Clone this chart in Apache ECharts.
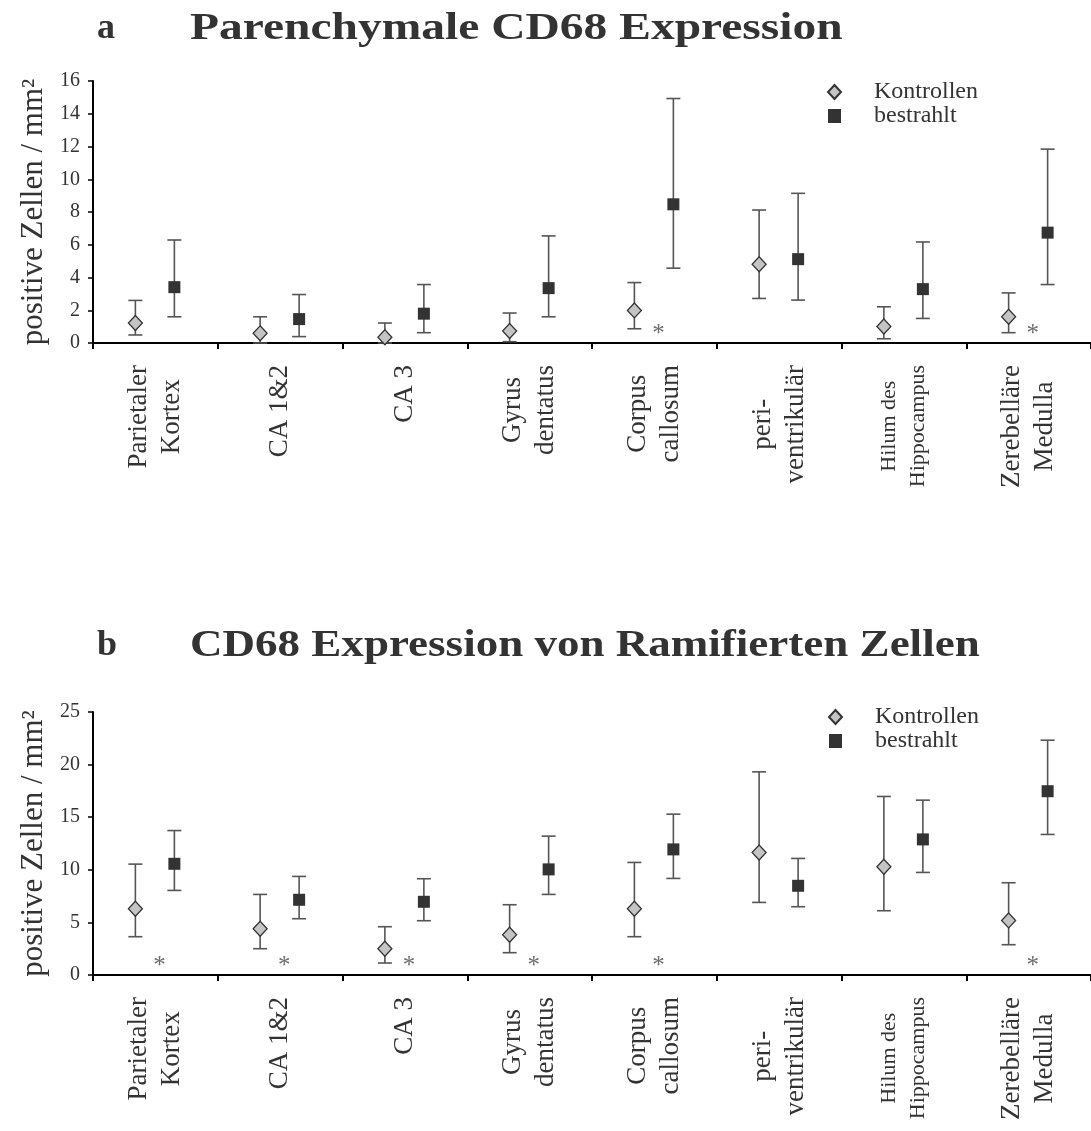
<!DOCTYPE html>
<html>
<head>
<meta charset="utf-8">
<script src="https://cdn.jsdelivr.net/npm/echarts@6/dist/echarts.min.js"></script>
<style>
  html, body { margin: 0; padding: 0; background: #ffffff; }
  #chart { width: 1091px; height: 1131px; }
</style>
</head>
<body>
<div id="chart"></div>
<script>
// Brain regions (x axis categories)
const categories = [
  'Parietaler\nKortex', 'CA 1&2', 'CA 3', 'Gyrus\ndentatus',
  'Corpus\ncallosum', 'peri-\nventrikulär', 'Hilum des\nHippocampus', 'Zerebelläre\nMedulla'
];

// a: Parenchymale CD68 Expression (positive Zellen / mm²)
const kontrollenA      = [1.22, 0.59, 0.35, 0.73, 1.99, 4.81, 1.01, 1.60];
const kontrollenALow   = [0.49, 0.00, 0.00, 0.08, 0.87, 2.72, 0.26, 0.63];
const kontrollenAHigh  = [2.60, 1.60, 1.22, 1.83, 3.69, 8.12, 2.21, 3.06];
const bestrahltA       = [3.41, 1.46, 1.79, 3.35, 8.47, 5.12, 3.29, 6.74];
const bestrahltALow    = [1.60, 0.39, 0.63, 1.60, 4.57, 2.62, 1.50, 3.57];
const bestrahltAHigh   = [6.29, 2.96, 3.57, 6.54, 14.93, 9.14, 6.17, 11.84];
const significantA     = [false, false, false, false, true, false, false, true];

// b: CD68 Expression von Ramifierten Zellen (positive Zellen / mm²)
const kontrollenB      = [6.30, 4.40, 2.50, 3.83, 6.30, 11.65, 10.29, 5.19];
const kontrollenBLow   = [3.64, 2.50, 1.14, 2.12, 3.64, 6.90, 6.11, 2.88];
const kontrollenBHigh  = [10.54, 7.66, 4.59, 6.68, 10.70, 19.31, 16.97, 8.77];
const bestrahltB       = [10.57, 7.15, 6.96, 10.04, 11.94, 8.48, 12.89, 17.47];
const bestrahltBLow    = [8.04, 5.35, 5.16, 7.66, 9.18, 6.49, 9.75, 13.36];
const bestrahltBHigh   = [13.73, 9.37, 9.15, 13.20, 15.29, 11.08, 16.62, 22.32];
const significantB     = [true, true, true, true, true, false, false, true];

// Axis ranges and tick spacing
const yMaxA = 16, yStepA = 2;
const yMaxB = 25, yStepB = 5;

const SERIF = '"Liberation Serif", "Times New Roman", serif';
const TEXT = '#333333';
const OFFSET_K = -20;   // pixel shift of the control marker inside its band
const OFFSET_B = 19;    // pixel shift of the irradiated marker inside its band

function xAxisFor(gridIndex) {
  return {
    type: 'category', gridIndex, data: categories, boundaryGap: true,
    axisLine: { lineStyle: { color: '#000', width: 2 } },
    axisTick: { show: true, interval: 0, length: 6, lineStyle: { color: '#000', width: 2 } },
    axisLabel: {
      interval: 0, rotate: 90, margin: 22, color: TEXT,
      formatter: (v) => {
        const key = v.indexOf('Hippocampus') >= 0 ? 's' : 'c';
        return v.split('\n').map(s => '{' + key + '|' + s + '}').join('\n');
      },
      rich: {
        c: { align: 'center', fontFamily: SERIF, fontSize: 27, lineHeight: 33, color: TEXT },
        s: { align: 'center', fontFamily: SERIF, fontSize: 22, lineHeight: 29, color: TEXT }
      }
    },
    splitLine: { show: false }
  };
}

function yAxisFor(gridIndex, max, step) {
  return {
    type: 'value', gridIndex, min: 0, max, interval: step,
    name: 'positive Zellen / mm²', nameLocation: 'middle', nameGap: 38,
    nameTextStyle: { fontFamily: SERIF, fontSize: 31, color: TEXT },
    axisLine: { show: true, lineStyle: { color: '#000', width: 2 } },
    axisTick: { show: true, length: 5, lineStyle: { color: '#000', width: 1.5 } },
    axisLabel: { fontFamily: SERIF, fontSize: 20, color: TEXT, margin: 13 },
    splitLine: { show: false }
  };
}

// Whisker (min–max style error bar) drawn through the axis scales
function errorBars(gridIndex, low, high, offset) {
  return {
    type: 'custom', xAxisIndex: gridIndex, yAxisIndex: gridIndex, silent: true, z: 2,
    data: low.map((l, i) => [i, l, high[i]]),
    encode: { x: 0, y: [1, 2] },
    renderItem(params, api) {
      const i = api.value(0);
      const lo = api.coord([i, api.value(1)]);
      const hi = api.coord([i, api.value(2)]);
      const x = lo[0] + offset;
      const half = 7;
      const style = { stroke: '#555', lineWidth: 1.6 };
      return {
        type: 'group',
        children: [
          { type: 'line', shape: { x1: x, y1: lo[1], x2: x, y2: hi[1] }, style },
          { type: 'line', shape: { x1: x - half, y1: hi[1], x2: x + half, y2: hi[1] }, style },
          { type: 'line', shape: { x1: x - half, y1: lo[1], x2: x + half, y2: lo[1] }, style }
        ]
      };
    }
  };
}

function kontrollenSeries(gridIndex, values) {
  return {
    type: 'scatter', name: 'Kontrollen', xAxisIndex: gridIndex, yAxisIndex: gridIndex, z: 3,
    data: values, symbol: 'diamond', symbolSize: [14, 15], symbolOffset: [OFFSET_K, 0],
    itemStyle: { color: '#c4c4c4', borderColor: '#333', borderWidth: 1.3, opacity: 1 }
  };
}

function bestrahltSeries(gridIndex, values) {
  return {
    type: 'scatter', name: 'bestrahlt', xAxisIndex: gridIndex, yAxisIndex: gridIndex, z: 3,
    data: values, symbol: 'rect', symbolSize: 12, symbolOffset: [OFFSET_B, 0],
    itemStyle: { color: '#333333', opacity: 1 }
  };
}

// Significance stars placed just above the baseline of a flagged region
function starSeries(gridIndex, flags, level) {
  return {
    type: 'scatter', xAxisIndex: gridIndex, yAxisIndex: gridIndex, silent: true, z: 4,
    symbolSize: 1, itemStyle: { color: 'rgba(0,0,0,0)' },
    data: flags.map((f, i) => f ? [i, level] : null).filter(Boolean),
    label: {
      show: true, position: 'inside', formatter: '*', offset: [4, 4],
      fontFamily: SERIF, fontSize: 25, color: '#4a4a4a'
    }
  };
}

function legendFor(left, top) {
  return {
    orient: 'vertical', left, top, itemWidth: 13, itemHeight: 14, itemGap: 0,
    data: ['Kontrollen', 'bestrahlt'],
    textStyle: { fontFamily: SERIF, fontSize: 24, lineHeight: 24, color: TEXT, padding: [0, 0, 0, 28] }
  };
}

function heading(y, letter, text, stretch) {
  return [
    { type: 'text', x: 97, y, style: { text: letter, font: 'bold 36px ' + SERIF, fill: TEXT, align: 'left', verticalAlign: 'middle' } },
    { type: 'text', x: 190, y, scaleX: stretch, style: { text, font: 'bold 38px ' + SERIF, fill: TEXT, align: 'left', verticalAlign: 'middle' } }
  ];
}

const chart = echarts.init(document.getElementById('chart'), null, { renderer: 'canvas' });
chart.setOption({
  backgroundColor: '#ffffff',
  animation: false,
  graphic: [
    ...heading(29, 'a', 'Parenchymale CD68 Expression', 1.25),
    ...heading(646, 'b', 'CD68 Expression von Ramifierten Zellen', 1.185)
  ],
  legend: [legendFor(822, 75), legendFor(823, 700)],
  grid: [
    { left: 93, top: 81, width: 1000, height: 262, containLabel: false },
    { left: 93, top: 712, width: 1000, height: 263, containLabel: false }
  ],
  xAxis: [xAxisFor(0), xAxisFor(1)],
  yAxis: [yAxisFor(0, yMaxA, yStepA), yAxisFor(1, yMaxB, yStepB)],
  series: [
    errorBars(0, kontrollenALow, kontrollenAHigh, OFFSET_K),
    errorBars(0, bestrahltALow, bestrahltAHigh, OFFSET_B),
    kontrollenSeries(0, kontrollenA),
    bestrahltSeries(0, bestrahltA),
    starSeries(0, significantA, 0.75),
    errorBars(1, kontrollenBLow, kontrollenBHigh, OFFSET_K),
    errorBars(1, bestrahltBLow, bestrahltBHigh, OFFSET_B),
    kontrollenSeries(1, kontrollenB),
    bestrahltSeries(1, bestrahltB),
    starSeries(1, significantB, 1.15)
  ]
});
</script>
</body>
</html>
